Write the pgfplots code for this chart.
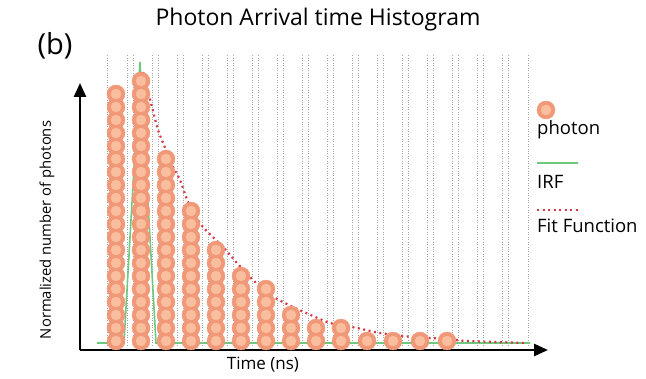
\documentclass[border=0pt]{standalone}
\usepackage{pgfplots}
\pgfplotsset{compat=1.18}
\usepackage{pgfplotstable}
\usepackage{fontspec}
\setmainfont{Open Sans}
\usetikzlibrary{arrows.meta}
\definecolor{ring}{RGB}{240,152,120}
\definecolor{core}{RGB}{249,190,158}
\definecolor{irf}{RGB}{110,200,125}
\definecolor{fitc}{RGB}{215,55,70}
\definecolor{gridc}{RGB}{165,165,165}

\pgfplotstableread{
x y
116 37
116 50
116 63
116 76
116 89
116 102
116 115
116 128
116 141
116 154
116 167
116 180
116 193
116 206
116 219
116 232
116 245
116 258
116 271
116 284
141 37
141 50
141 63
141 76
141 89
141 102
141 115
141 128
141 141
141 154
141 167
141 180
141 193
141 206
141 219
141 232
141 245
141 258
141 271
141 284
141 297
166 37
166 50
166 63
166 76
166 89
166 102
166 115
166 128
166 141
166 154
166 167
166 180
166 193
166 206
166 219
191 37
191 50
191 63
191 76
191 89
191 102
191 115
191 128
191 141
191 154
191 167
216 37
216 50
216 63
216 76
216 89
216 102
216 115
216 128
241 37
241 50
241 63
241 76
241 89
241 102
266 37
266 50
266 63
266 76
266 89
291 37
291 50
291 63
316 37
316 50
341 37
341 50
367 37
393 37
420 37
447 37
}\photons

\pgfplotstableread{
x y
143 306
152 271
158 248
166 228
173 211
180 198
190 171
203 151
223 131
237 115
253 98
270 83
293 71
313 62
330 55
357 50
380 45
413 41
447 39
467 37
527 35
}\fit

\pgfplotstableread{
x y
97 35
124 35
140 316
156 35
530 35
}\irf

\begin{document}
\begin{tikzpicture}
\begin{axis}[
  scale only axis, width=468pt, height=267pt,
  xmin=80, xmax=548, ymin=28, ymax=295,
  axis lines=left,
  axis line style={line width=2.6pt, -{Triangle[length=14pt,width=12pt]}},
  ticks=none, clip=false,
]
\path (axis cs:0,0) -- (axis cs:646,378);
% bin boundaries
\addplot[gridc, line width=0.45pt, dotted, unbounded coords=jump] coordinates {
(107,33) (107,323) (107,nan)
(127,33) (127,323) (127,nan) (133,33) (133,323) (133,nan)
(152,33) (152,323) (152,nan) (158,33) (158,323) (158,nan)
(177,33) (177,323) (177,nan) (183,33) (183,323) (183,nan)
(202,33) (202,323) (202,nan) (208,33) (208,323) (208,nan)
(227,33) (227,323) (227,nan) (233,33) (233,323) (233,nan)
(252,33) (252,323) (252,nan) (258,33) (258,323) (258,nan)
(277,33) (277,323) (277,nan) (283,33) (283,323) (283,nan)
(302,33) (302,323) (302,nan) (308,33) (308,323) (308,nan)
(327,33) (327,323) (327,nan) (333,33) (333,323) (333,nan)
(352,33) (352,323) (352,nan) (358,33) (358,323) (358,nan)
(377,33) (377,323) (377,nan) (383,33) (383,323) (383,nan)
(402,33) (402,323) (402,nan) (408,33) (408,323) (408,nan)
(427,33) (427,323) (427,nan) (433,33) (433,323) (433,nan)
(452,33) (452,323) (452,nan) (458,33) (458,323) (458,nan)
(477,33) (477,323) (477,nan) (483,33) (483,323) (483,nan)
(502,33) (502,323) (502,nan) (508,33) (508,323) (508,nan)
(528,33) (528,323)
};
% photons
\addplot[ring, only marks, mark=*, mark size=9pt, mark options={fill=ring, draw=ring}] table[x=x,y=y] {\photons};
\addplot[core, only marks, mark=*, mark size=5pt, mark options={fill=core, draw=core}] table[x=x,y=y] {\photons};
% IRF
\addplot[irf, line width=1.6pt] table[x=x,y=y] {\irf};
% fit
\addplot[fitc, line width=2.2pt, dash pattern=on 2pt off 3.5pt, smooth, tension=0.4] table[x=x,y=y] {\fit};
% legend
\addplot[ring, only marks, mark=*, mark size=9pt, mark options={fill=ring, draw=ring}] coordinates {(546,268)};
\addplot[core, only marks, mark=*, mark size=5pt, mark options={fill=core, draw=core}] coordinates {(546,268)};
\addplot[irf, line width=1.6pt] coordinates {(537,215) (578,215)};
\addplot[fitc, line width=2.2pt, dash pattern=on 2pt off 3.5pt] coordinates {(537,168) (578,168)};
\node[anchor=west, inner sep=0pt, font=\fontsize{18.5}{20}\selectfont] at (axis cs:537,248) {photon};
\node[anchor=west, inner sep=0pt, font=\fontsize{18.5}{20}\selectfont] at (axis cs:537,196) {IRF};
\node[anchor=west, inner sep=0pt, font=\fontsize{18.5}{20}\selectfont] at (axis cs:537,152) {Fit Function};
% titles
\node[font=\fontsize{23}{26}\selectfont] at (axis cs:318,358) {Photon Arrival time Histogram};
\node[font=\fontsize{29}{32}\selectfont] at (axis cs:55,332) {(b)};
\node[rotate=90, font=\fontsize{14.8}{17}\selectfont] at (axis cs:47,148) {Normalized number of photons};
\node[font=\fontsize{17}{19}\selectfont] at (axis cs:263,13) {Time (ns)};
\end{axis}
\end{tikzpicture}
\end{document}
